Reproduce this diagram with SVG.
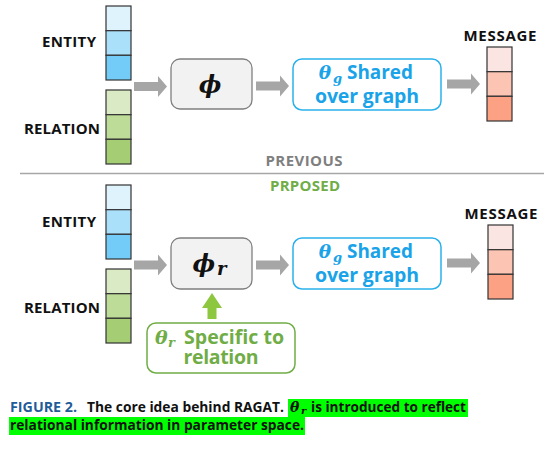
<svg xmlns="http://www.w3.org/2000/svg" width="554" height="455" viewBox="0 0 554 455">
<style>
.lbl{font-family:"Open Sans","Noto Sans",sans-serif;font-weight:700;font-size:15px;fill:#111}
.cell{stroke:#333;stroke-width:1.2}
.garrow{fill:#a6a6a6}
.math{font-family:"DejaVu Serif","Liberation Serif",serif;font-style:italic;font-weight:700}
.blue{font-family:"Open Sans","Noto Sans",sans-serif;font-weight:700;font-size:19.5px;fill:#1aa3e8}
.green{font-family:"Open Sans","Noto Sans",sans-serif;font-weight:700;font-size:19.5px;fill:#70ad47}
.cap{font-family:"Open Sans","Noto Sans",sans-serif;font-weight:700;font-size:15px;fill:#111}
</style>
<defs>
<path id="ar" d="M0,-4.5 H24 V-10.5 L33,0 L24,10.5 V4.5 H0 Z"/>
<g id="ent">
<rect class="cell" x="0" y="0" width="25" height="24.7" fill="#dff3fd"/>
<rect class="cell" x="0" y="24.7" width="25" height="24.6" fill="#abe0fb"/>
<rect class="cell" x="0" y="49.3" width="25" height="24.7" fill="#72ccf7"/>
</g>
<g id="rel">
<rect class="cell" x="0" y="0" width="25" height="24.7" fill="#d9eac4"/>
<rect class="cell" x="0" y="24.7" width="25" height="24.6" fill="#bddc98"/>
<rect class="cell" x="0" y="49.3" width="25" height="24.7" fill="#a4cd74"/>
</g>
<g id="msg">
<rect class="cell" x="0" y="0" width="25" height="24.7" fill="#fbe5e2"/>
<rect class="cell" x="0" y="24.7" width="25" height="24.6" fill="#fcc4b3"/>
<rect class="cell" x="0" y="49.3" width="25" height="24.7" fill="#fca183"/>
</g>
</defs>

<!-- TOP: PREVIOUS -->
<g id="entity-prev">
<use href="#ent" x="106" y="6"/>
<text class="lbl" x="96" y="47" text-anchor="end" textLength="54">ENTITY</text>
</g>
<g id="relation-prev">
<use href="#rel" x="106" y="90"/>
<text class="lbl" x="100" y="134" text-anchor="end" textLength="76">RELATION</text>
</g>
<g id="phi-prev">
<rect x="171" y="59" width="81" height="50" rx="9" fill="#f2f2f2" stroke="#7f7f7f" stroke-width="1.3"/>
<text class="math" x="210" y="93" text-anchor="middle" font-size="24" fill="#111">ϕ</text>
</g>
<g id="theta-g-prev">
<rect x="293" y="59" width="148" height="51" rx="9" fill="#fff" stroke="#2ab1ec" stroke-width="1.5"/>
<text class="math" x="331" y="79" text-anchor="end" font-size="18.5" fill="#1aa3e8">θ</text>
<text class="math" x="333" y="83" font-size="13" fill="#1aa3e8">g</text>
<text class="blue" x="347" y="79" textLength="66" lengthAdjust="spacingAndGlyphs">Shared</text>
<text class="blue" x="367" y="103" text-anchor="middle" textLength="104">over graph</text>
</g>
<g id="message-prev">
<use href="#msg" x="487" y="47"/>
<text class="lbl" x="500" y="41" text-anchor="middle" textLength="73">MESSAGE</text>
</g>

<!-- separator -->
<g id="separator">
<line x1="20" y1="173.5" x2="544" y2="173.5" stroke="#a6a6a6" stroke-width="1.5"/>
<text x="304" y="166" text-anchor="middle" font-family="Open Sans, Noto Sans, sans-serif" font-weight="700" font-size="15" fill="#7f7f7f" textLength="77">PREVIOUS</text>
<text x="305" y="191" text-anchor="middle" font-family="Open Sans, Noto Sans, sans-serif" font-weight="700" font-size="15" fill="#70ad47" textLength="70">PRPOSED</text>
</g>

<!-- BOTTOM: PROPOSED -->
<g id="entity-prop">
<use href="#ent" x="106" y="185"/>
<text class="lbl" x="96" y="227" text-anchor="end" textLength="54">ENTITY</text>
</g>
<g id="relation-prop">
<use href="#rel" x="106" y="269"/>
<text class="lbl" x="100" y="313" text-anchor="end" textLength="76">RELATION</text>
</g>
<g id="phi-r">
<rect x="171" y="238" width="81" height="51" rx="9" fill="#f2f2f2" stroke="#7f7f7f" stroke-width="1.3"/>
<text class="math" x="215" y="272" text-anchor="end" font-size="24" fill="#111">ϕ</text>
<text class="math" x="217" y="275" font-size="18" fill="#111">r</text>
</g>
<g id="theta-g-prop">
<rect x="293" y="238" width="148" height="51" rx="9" fill="#fff" stroke="#2ab1ec" stroke-width="1.5"/>
<text class="math" x="331" y="258" text-anchor="end" font-size="18.5" fill="#1aa3e8">θ</text>
<text class="math" x="333" y="262" font-size="13" fill="#1aa3e8">g</text>
<text class="blue" x="347" y="258" textLength="66" lengthAdjust="spacingAndGlyphs">Shared</text>
<text class="blue" x="367" y="282" text-anchor="middle" textLength="104">over graph</text>
</g>
<g id="message-prop">
<use href="#msg" x="488" y="225"/>
<text class="lbl" x="501" y="219" text-anchor="middle" textLength="73">MESSAGE</text>
</g>
<g id="theta-r">
<rect x="147" y="323" width="148" height="50" rx="9" fill="#fff" stroke="#70ad47" stroke-width="1.5"/>
<text class="math" x="155" y="344" font-size="19" fill="#70ad47">θ</text>
<text class="math" x="168" y="347" font-size="13" fill="#70ad47">r</text>
<text class="green" x="184" y="344" textLength="100" lengthAdjust="spacingAndGlyphs">Specific to</text>
<text class="green" x="221" y="364" text-anchor="middle" textLength="75">relation</text>
</g>

<!-- connectors -->
<g id="connectors">
<use href="#ar" class="garrow" x="134" y="86.5"/>
<use href="#ar" class="garrow" x="256" y="86"/>
<use href="#ar" class="garrow" x="447" y="84"/>
<use href="#ar" class="garrow" x="134" y="265"/>
<use href="#ar" class="garrow" x="256" y="265"/>
<use href="#ar" class="garrow" x="447" y="263"/>
<path d="M207.5,319 V308 H202 L212,293 L222,308 H216.5 V319 Z" fill="#8dc63f"/>
</g>

<!-- caption -->
<g id="caption">
<rect x="288" y="399" width="180" height="18" fill="#00ff00"/>
<rect x="9" y="417" width="296" height="18" fill="#00ff00"/>
<text class="cap" x="10" y="412" style="fill:#1f5c99" textLength="67" lengthAdjust="spacingAndGlyphs">FIGURE 2.</text>
<text class="cap" x="87" y="412" textLength="197" lengthAdjust="spacingAndGlyphs">The core idea behind RAGAT.</text>
<text class="math" x="290" y="412" font-size="14" fill="#111">θ</text>
<text class="math" x="301" y="414" font-size="10" fill="#111">r</text>
<text class="cap" x="311" y="412" textLength="155" lengthAdjust="spacingAndGlyphs">is introduced to reflect</text>
<text class="cap" x="10" y="430" textLength="294" lengthAdjust="spacingAndGlyphs">relational information in parameter space.</text>
</g>
</svg>
